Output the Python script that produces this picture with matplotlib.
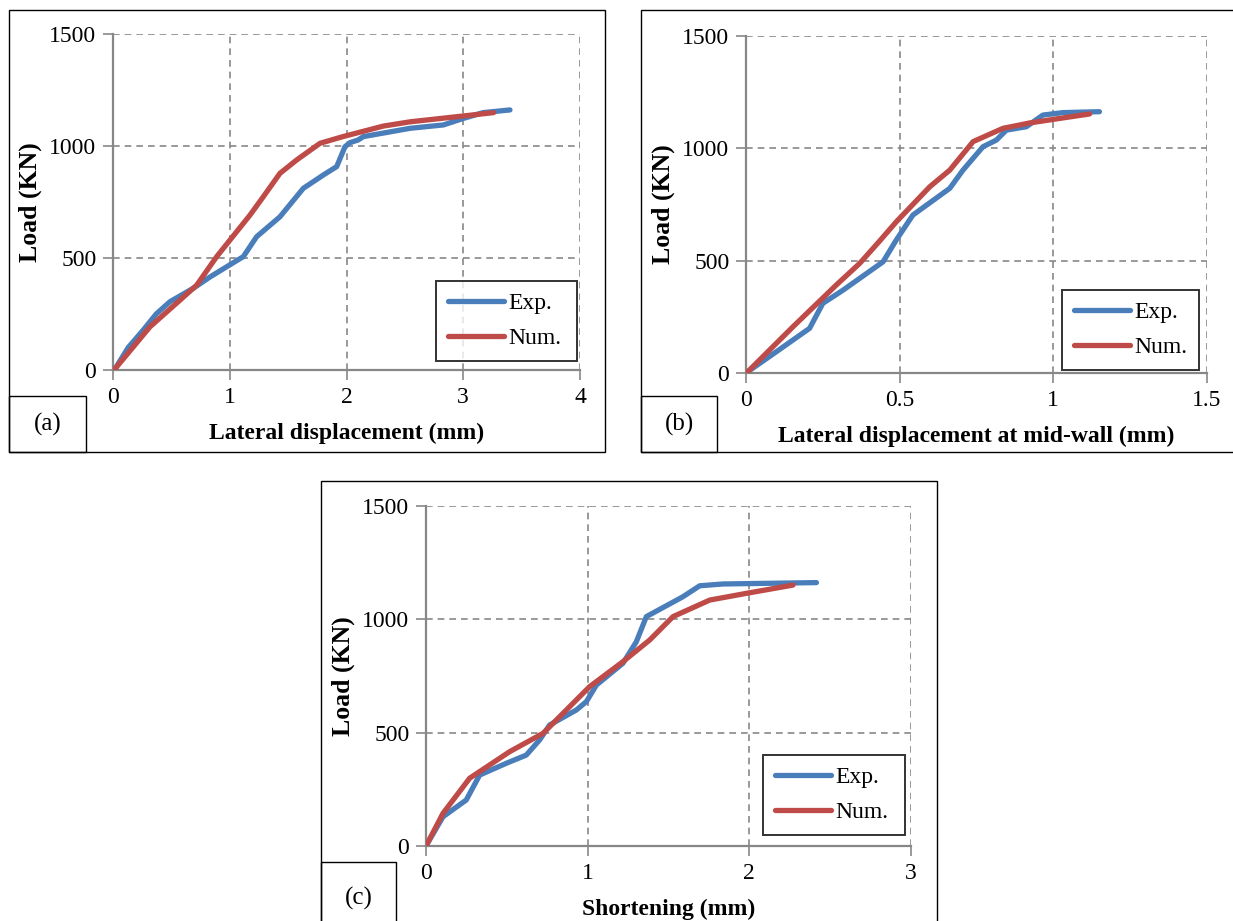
import numpy as np
import matplotlib
matplotlib.use("Agg")
import matplotlib.pyplot as plt
from matplotlib.patches import Rectangle

plt.rcParams['font.family'] = ['Liberation Serif', 'DejaVu Serif']

W, H = 1233, 921

# (a) load vs lateral displacement
a_exp_x = [0, 0.02, 0.13, 0.26, 0.37, 0.488, 0.688, 0.83, 0.974, 1.116, 1.23, 1.43, 1.63, 1.80,
           1.916, 1.987, 2.03, 2.10, 2.145, 2.545, 2.83, 3.0, 3.17, 3.40]
a_exp_y = [0, 7, 100, 179, 250, 305, 365, 415, 461, 506, 595, 684, 811, 870,
           908, 997, 1015, 1027, 1042, 1079, 1094, 1123, 1149, 1161]
a_num_x = [0, 0.02, 0.317, 0.574, 0.717, 0.888, 1.174, 1.288, 1.43, 1.574, 1.773, 1.97, 2.316,
           2.545, 3.0, 3.26]
a_num_y = [0, 7, 193, 312, 379, 506, 692, 774, 878, 938, 1012, 1042, 1089, 1108, 1134, 1149]

# (b) load vs lateral displacement at mid-wall
b_exp_x = [0, 0.006, 0.099, 0.207, 0.25, 0.316, 0.446, 0.489, 0.543, 0.663, 0.706, 0.771, 0.815,
           0.847, 0.912, 0.966, 1.031, 1.15]
b_exp_y = [0, 6, 95, 199, 310, 369, 495, 592, 703, 822, 903, 1007, 1037,
           1081, 1096, 1148, 1159, 1163]
b_num_x = [0, 0.006, 0.153, 0.294, 0.37, 0.43, 0.489, 0.598, 0.663, 0.739, 0.836, 0.923, 1.02, 1.118]
b_num_y = [0, 6, 206, 392, 488, 580, 673, 829, 903, 1030, 1089, 1113, 1133, 1153]

# (c) load vs shortening
c_exp_x = [0, 0.105, 0.249, 0.332, 0.497, 0.62, 0.703, 0.765, 0.93, 0.992, 1.054, 1.218, 1.301,
           1.363, 1.59, 1.693, 1.837, 2.415]
c_exp_y = [0, 129, 203, 313, 365, 401, 468, 534, 600, 637, 710, 806, 901,
           1012, 1100, 1148, 1156, 1162]
c_num_x = [0, 0.105, 0.27, 0.517, 0.724, 0.868, 1.012, 1.218, 1.384, 1.528, 1.755, 2.0, 2.27]
c_num_y = [0, 144, 299, 416, 497, 600, 703, 813, 909, 1012, 1085, 1117, 1151]

BLUE = '#4a7ebb'
RED = '#be4b48'
GREY = '#878787'

fig = plt.figure(figsize=(W / 100, H / 100), dpi=100)


def px_rect(l, t, r, b):
    return [l / W, 1 - b / H, (r - l) / W, (b - t) / H]


def frame(l, t, r, b, lw=1.0):
    fig.patches.append(Rectangle((l / W, 1 - b / H), (r - l) / W, (b - t) / H,
                                 transform=fig.transFigure, fill=False,
                                 edgecolor='black', linewidth=lw))


def panel(box, axbox, labbox, legbox, exp, num, xmax, xstep, xlabel, tag):
    frame(*box)
    frame(*labbox)
    fig.text((labbox[0] + labbox[2]) / 2 / W, 1 - (labbox[1] + labbox[3]) / 2 / H, tag,
             ha='center', va='center', fontsize=18)

    ax = fig.add_axes(px_rect(*axbox))
    ax.set_facecolor('none')
    ax.plot(exp[0], exp[1], color=BLUE, lw=3.8, solid_capstyle='round',
            solid_joinstyle='round', label='Exp.', zorder=3)
    ax.plot(num[0], num[1], color=RED, lw=3.8, solid_capstyle='round',
            solid_joinstyle='round', label='Num.', zorder=3)

    ax.set_xlim(0, xmax)
    ax.set_ylim(0, 1500)
    ax.set_xticks(np.arange(0, xmax + xstep / 2, xstep))
    ax.set_yticks([0, 500, 1000, 1500])
    ax.set_xticklabels([f'{v:g}' for v in ax.get_xticks()])
    ax.grid(True, color=GREY, ls=(0, (4, 3)), lw=1.2)
    for s in ('top', 'right'):
        ax.spines[s].set_visible(False)
    for s in ('left', 'bottom'):
        ax.spines[s].set_color(GREY)
        ax.spines[s].set_linewidth(1.6)
        ax.spines[s].set_zorder(2)
    ax.tick_params(axis='both', direction='out', length=7, width=1.2, color=GREY,
                   labelsize=17, pad=5)
    ax.set_xlabel(xlabel, fontsize=17, fontweight='bold', labelpad=11)
    ax.set_ylabel('Load (KN)', fontsize=18.5, fontweight='bold', labelpad=5)

    # legend box stretched to a fixed width
    l, t, r, b = legbox
    leg = ax.legend(loc='upper left', mode='expand',
                    bbox_to_anchor=(l / W, 1 - b / H, (r - l) / W, (b - t) / H),
                    bbox_transform=fig.transFigure, frameon=True, fancybox=False,
                    fontsize=17, handlelength=2.4, handletextpad=0.15,
                    borderpad=0.5, labelspacing=0.55, borderaxespad=0)
    leg.get_frame().set_edgecolor('black')
    leg.get_frame().set_linewidth(1.4)
    leg.set_zorder(5)
    return ax


panel((9, 10, 605, 452), (113, 34, 580, 370), (9, 396, 86, 452), (436, 281, 577, 361),
      (a_exp_x, a_exp_y), (a_num_x, a_num_y), 4, 1,
      'Lateral displacement (mm)', '(a)')
panel((641, 10, 1245, 452), (746, 36, 1207, 373), (641, 396, 717, 452), (1062, 290, 1199, 370),
      (b_exp_x, b_exp_y), (b_num_x, b_num_y), 1.5, 0.5,
      'Lateral displacement at mid-wall (mm)', '(b)')
panel((321, 481, 937, 935), (426, 506, 911, 846), (321, 862, 396, 935), (763, 755, 905, 835),
      (c_exp_x, c_exp_y), (c_num_x, c_num_y), 3, 1,
      'Shortening (mm)', '(c)')

fig.savefig('out.png', dpi=100)
